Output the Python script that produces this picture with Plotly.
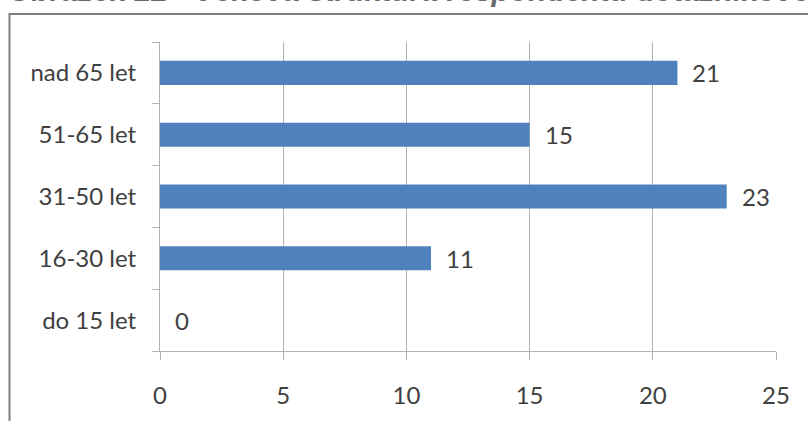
import plotly.graph_objects as go

categories = ["do 15 let", "16-30 let", "31-50 let", "51-65 let", "nad 65 let"]
values = [0, 11, 23, 15, 21]
x_ticks = [0, 5, 10, 15, 20, 25]
title_text = "Obrázek 22 - Věková struktura respondentů dotazníkového šetření"

W, H = 808, 421
L, R, T, B = 160, 32, 42, 59
pw, ph = W - L - R, H - T - B

def px_x(px):
    return (px - L) / pw

def px_y(py):
    return (H - B - py) / ph

font_main = "Lato, 'Open Sans', sans-serif"
text_col = "#404040"
grid_col = "#b3b3b3"

fig = go.Figure()
fig.add_trace(go.Bar(
    x=values, y=categories, orientation="h",
    marker=dict(color="#4f81bd", line=dict(width=0)),
    width=0.39,
    hoverinfo="skip",
))

annotations = []
for c, v in zip(categories, values):
    annotations.append(dict(
        x=v, y=c, xref="x", yref="y", text=str(v), showarrow=False,
        xanchor="left", yanchor="middle", xshift=13,
        font=dict(family=font_main, size=24, color=text_col),
    ))

annotations.append(dict(
    x=px_x(6), y=px_y(7.5), xref="paper", yref="paper", text="<b><i>" + title_text + "</i></b>",
    showarrow=False, xanchor="left", yanchor="bottom",
    font=dict(family="'Liberation Sans', Arial, sans-serif", size=30, color="#6a6a6a"),
))

fig.update_layout(
    width=W, height=H,
    margin=dict(l=L, r=R, t=T, b=B, pad=0),
    paper_bgcolor="white", plot_bgcolor="white",
    showlegend=False,
    annotations=annotations,
    shapes=[dict(
        type="rect", xref="paper", yref="paper",
        x0=px_x(9.5), x1=px_x(830), y0=px_y(440), y1=px_y(13),
        line=dict(color="#7f7f7f", width=2), fillcolor="rgba(0,0,0,0)", layer="below",
    )],
    xaxis=dict(
        range=[0, 25], tickvals=x_ticks, ticktext=[str(t) for t in x_ticks],
        showgrid=True, gridcolor=grid_col, gridwidth=1,
        showline=True, linecolor=grid_col, linewidth=1,
        ticks="outside", ticklen=8, tickcolor=grid_col,
        tickfont=dict(family=font_main, size=24, color=text_col),
        ticklabelstandoff=15,
        zeroline=False, fixedrange=True,
    ),
    yaxis=dict(
        categoryorder="array", categoryarray=categories,
        showgrid=False,
        showline=True, linecolor=grid_col, linewidth=1,
        ticks="outside", ticklen=7, tickcolor=grid_col, tickson="boundaries",
        tickfont=dict(family=font_main, size=24, color=text_col),
        ticklabelstandoff=18,
        fixedrange=True,
    ),
)

fig.write_html("out.html", config={"displayModeBar": False},
               post_script="document.body.style.margin='0';")
